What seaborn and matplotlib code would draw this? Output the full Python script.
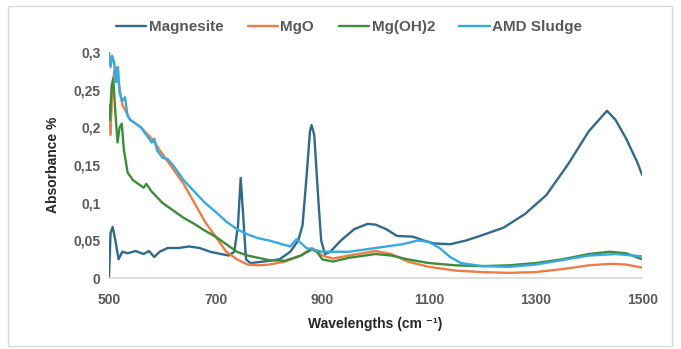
import pandas as pd
import seaborn as sns
import matplotlib.pyplot as plt
from matplotlib.patches import Rectangle

sns.set_style("white")
plt.rcParams["font.family"] = ["Liberation Sans", "DejaVu Sans"]

# values
mag_x = [500, 503, 507, 512, 518, 525, 535, 550, 565, 575, 585, 595, 610, 630, 650, 670, 690,
         710, 725, 735, 742, 747, 752, 757, 765, 790, 820, 840, 855, 863, 870, 877, 880, 885,
         893, 898, 905, 915, 935, 960, 985, 1000, 1020, 1040, 1070, 1090, 1110, 1140, 1170,
         1200, 1240, 1280, 1320, 1360, 1400, 1434, 1450, 1470, 1490, 1500]
mag_y = [0.0, 0.06, 0.068, 0.05, 0.025, 0.035, 0.033, 0.036, 0.032, 0.036, 0.028, 0.035, 0.04,
         0.04, 0.042, 0.04, 0.035, 0.032, 0.03, 0.035, 0.07, 0.133, 0.08, 0.025, 0.02, 0.022,
         0.025, 0.035, 0.05, 0.07, 0.13, 0.195, 0.203, 0.19, 0.1, 0.05, 0.032, 0.035, 0.05,
         0.065, 0.072, 0.071, 0.065, 0.056, 0.055, 0.05, 0.046, 0.045, 0.05, 0.057, 0.067,
         0.085, 0.11, 0.15, 0.195, 0.222, 0.21, 0.185, 0.155, 0.137]

mgo_x = [500, 503, 506, 510, 513, 518, 525, 540, 560, 580, 600, 620, 640, 660, 680, 700, 720,
         740, 760, 780, 800, 830, 860, 880, 890, 900, 920, 950, 1000, 1030, 1060, 1100, 1150,
         1200, 1250, 1300, 1350, 1400, 1440, 1470, 1500]
mgo_y = [0.22, 0.19, 0.25, 0.275, 0.28, 0.26, 0.23, 0.21, 0.2, 0.185, 0.165, 0.145, 0.125, 0.1,
         0.075, 0.055, 0.035, 0.025, 0.018, 0.017, 0.018, 0.022, 0.03, 0.04, 0.036, 0.03, 0.026,
         0.03, 0.036, 0.032, 0.022, 0.015, 0.01, 0.008, 0.007, 0.008, 0.012, 0.017, 0.019,
         0.018, 0.014]

oh_x = [500, 502, 505, 508, 512, 516, 520, 524, 528, 535, 545, 555, 565, 570, 580, 600, 620,
        640, 660, 680, 700, 720, 740, 760, 780, 800, 830, 860, 880, 890, 900, 920, 950, 1000,
        1030, 1060, 1100, 1150, 1200, 1250, 1300, 1350, 1400, 1440, 1470, 1500]
oh_y = [0.23, 0.21, 0.255, 0.265, 0.22, 0.18, 0.2, 0.205, 0.17, 0.14, 0.13, 0.125, 0.12, 0.125,
        0.115, 0.1, 0.09, 0.08, 0.072, 0.063, 0.055, 0.045, 0.035, 0.03, 0.027, 0.024, 0.023,
        0.03, 0.038, 0.035, 0.025, 0.022, 0.027, 0.032, 0.03, 0.025, 0.02, 0.017, 0.016, 0.017,
        0.02, 0.025, 0.032, 0.035, 0.033, 0.025]

amd_x = [500, 503, 506, 510, 513, 517, 520, 525, 530, 535, 540, 550, 560, 570, 580, 585, 590,
         600, 610, 620, 640, 660, 680, 700, 720, 740, 760, 780, 800, 820, 840, 852, 870, 900,
         950, 1000, 1050, 1080, 1100, 1120, 1140, 1160, 1200, 1250, 1300, 1350, 1400, 1450, 1500]
amd_y = [0.3, 0.28, 0.295, 0.285, 0.26, 0.28, 0.245, 0.235, 0.24, 0.215, 0.21, 0.205, 0.2, 0.19,
         0.18, 0.185, 0.17, 0.16, 0.158, 0.15, 0.13, 0.115, 0.1, 0.088, 0.075, 0.065, 0.058,
         0.053, 0.05, 0.046, 0.042, 0.052, 0.04, 0.035, 0.035, 0.04, 0.045, 0.05, 0.048, 0.04,
         0.028, 0.02, 0.016, 0.015, 0.018, 0.024, 0.03, 0.032, 0.029]

names = ["Magnesite", "MgO", "Mg(OH)2", "AMD Sludge"]
colors = ["#2F6A8C", "#EE7D45", "#3C8C3C", "#36A9E1"]

frames = []
for name, xs, ys in zip(names, [mag_x, mgo_x, oh_x, amd_x], [mag_y, mgo_y, oh_y, amd_y]):
    frames.append(pd.DataFrame({"Wavelength": xs, "Absorbance": ys, "Sample": name}))
df = pd.concat(frames, ignore_index=True)

fig = plt.figure(figsize=(6.81, 3.49), dpi=100)
ax = fig.add_axes([0.160, 0.203, 0.783, 0.648])

sns.lineplot(data=df, x="Wavelength", y="Absorbance", hue="Sample", hue_order=names,
             palette=colors, linewidth=1.7, sort=False, estimator=None, ax=ax)

ax.set_xlim(500, 1500)
ax.set_ylim(0, 0.3)
ax.set_xticks([500, 700, 900, 1100, 1300, 1500])
ax.set_yticks([0, 0.05, 0.1, 0.15, 0.2, 0.25, 0.3])
ax.set_yticklabels(["0", "0,05", "0,1", "0,15", "0,2", "0,25", "0,3"])
ax.tick_params(axis="both", length=0, labelsize=10, colors="#595959")
ax.tick_params(axis="y", pad=6)
ax.tick_params(axis="x", pad=11)
for lab in ax.get_xticklabels() + ax.get_yticklabels():
    lab.set_fontweight("bold")

for side in ("top", "right", "left"):
    ax.spines[side].set_visible(False)
ax.spines["bottom"].set_color("#D9D9D9")
ax.spines["bottom"].set_linewidth(1.2)

ax.set_xlabel("Wavelengths (cm ⁻¹)", fontsize=10, fontweight="bold", color="#262626", labelpad=7)
ax.set_ylabel("Absorbance %", fontsize=10, fontweight="bold", color="#262626", labelpad=10)

leg = ax.legend(loc="center", bbox_to_anchor=(349 / 681, 1 - 27 / 349),
                bbox_transform=fig.transFigure, ncol=4, frameon=False,
                fontsize=11, handlelength=2.0, handletextpad=0.15, columnspacing=1.6)
for t in leg.get_texts():
    t.set_fontweight("bold")
    t.set_color("#595959")

fig.patches.append(Rectangle((8 / 681, 3 / 349), 664 / 681, 340 / 349, transform=fig.transFigure,
                             fill=False, edgecolor="#D9D9D9", linewidth=1.0))

fig.savefig("out.png", dpi=100)
